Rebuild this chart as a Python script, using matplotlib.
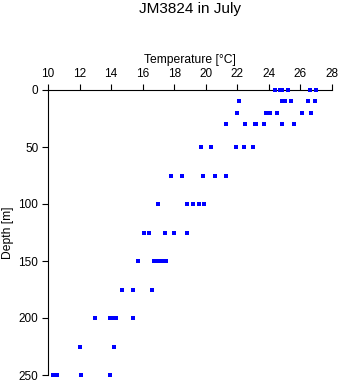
import numpy as np
import matplotlib
matplotlib.use("Agg")
import matplotlib.pyplot as plt

plt.rcParams['font.family'] = ['Liberation Sans', 'DejaVu Sans']

# Temperature readings (deg C) at each sampled depth (m)
depth_levels = [0, 10, 20, 30, 50, 75, 100, 125, 150, 175, 200, 225, 250]
temps_by_depth = [
    [24.4, 24.7, 24.8, 25.2, 26.6, 27.0],
    [22.1, 24.8, 25.0, 25.4, 26.5, 26.9],
    [22.0, 23.8, 24.1, 24.5, 26.1, 26.7],
    [21.3, 22.5, 23.1, 23.2, 23.7, 24.8, 25.6],
    [19.7, 20.3, 21.9, 22.4, 23.0],
    [17.8, 18.5, 19.8, 20.6, 21.3],
    [17.0, 18.8, 19.2, 19.6, 19.9],
    [16.1, 16.4, 17.4, 18.0, 18.8],
    [15.7, 16.7, 16.9, 17.1, 17.3, 17.5],
    [14.7, 15.4, 16.6],
    [13.0, 13.9, 14.1, 14.3, 15.4],
    [12.0, 14.2],
    [10.3, 10.45, 10.6, 12.1, 13.9],
]

depths = np.concatenate([[d] * len(t) for d, t in zip(depth_levels, temps_by_depth)])
temps = np.concatenate(temps_by_depth)

fig = plt.figure(figsize=(3.41, 3.84), dpi=100)
ax = fig.add_axes([48 / 341, 9 / 384, 284 / 341, 285 / 384])

ax.plot(temps, depths, linestyle='none', marker='s', markersize=2.4,
        markeredgewidth=0, color='#0000ff', clip_on=False, zorder=3)

ax.set_xlim(10, 28)
ax.set_ylim(250, 0)
ax.set_xticks(np.arange(10, 29, 2))
ax.set_yticks([0, 50, 100, 150, 200, 250])

ax.xaxis.tick_top()
ax.xaxis.set_label_position('top')
ax.set_xlabel('Temperature [°C]', fontsize=8.7, labelpad=4)
ax.set_ylabel('Depth [m]', fontsize=8.7, labelpad=3)

for side in ['right', 'bottom']:
    ax.spines[side].set_visible(False)
for side in ['top', 'left']:
    ax.spines[side].set_linewidth(0.8)

ax.tick_params(axis='both', direction='out', length=4, width=0.8,
               labelsize=8.5, pad=3)

fig.text(190 / 341, 1 - 9 / 384, 'JM3824 in July', ha='center', va='center',
         fontsize=11)

fig.savefig('out.png', dpi=100)
